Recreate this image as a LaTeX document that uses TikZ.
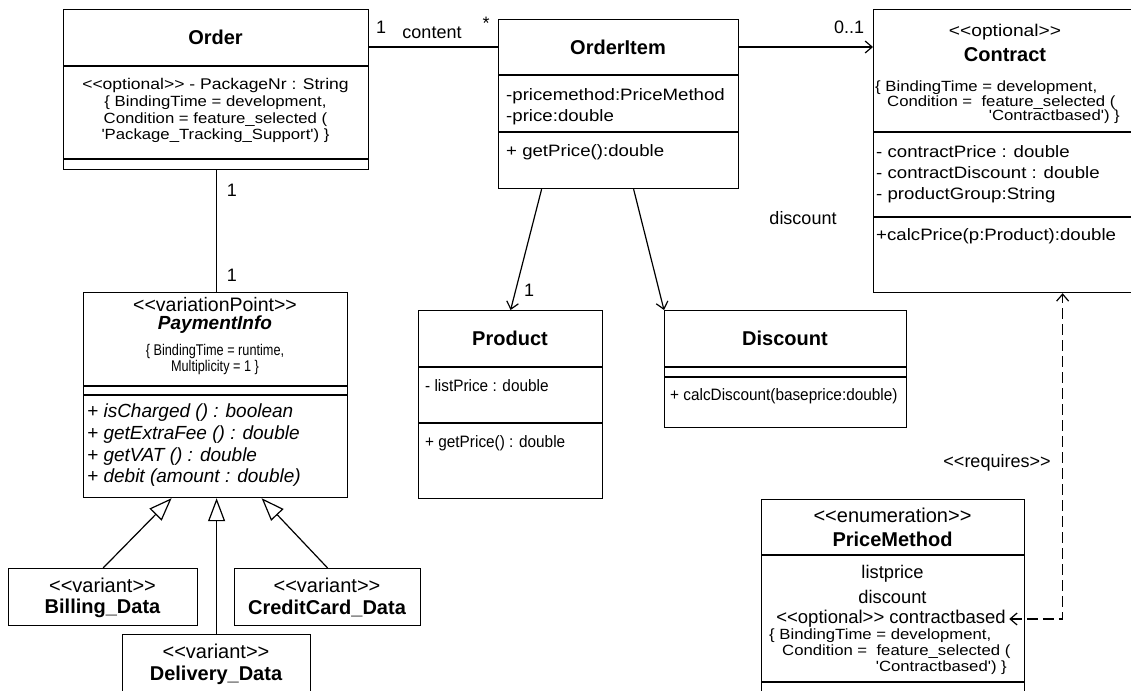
\documentclass[tikz,border=0pt]{standalone}
\usepackage{fontspec}
\setmainfont{Liberation Sans}[Ligatures=TeXOff]
\newfontfamily\wfont{Liberation Sans}[Ligatures=TeXOff,FakeStretch=1.13]
\newfontfamily\nfont{Liberation Sans}[Ligatures=TeXOff,FakeStretch=0.93]
\newfontfamily\cfont{Liberation Sans}[Ligatures=TeXOff,FakeStretch=0.82]
\usetikzlibrary{arrows.meta,calc}
\newcommand{\setfs}[2]{\fontsize{#1}{#2}\selectfont}

\begin{document}
\begin{tikzpicture}[x=1pt,y=-1pt,
    box/.style={draw,line width=1.2pt,inner sep=0pt,anchor=north west},
    umlline/.style={line width=1.2pt},
    cname/.style={font=\setfs{20}{24}\bfseries},
    stereo/.style={font=\setfs{20}{24}},
    mem/.style={font=\wfont\setfs{16.5}{20},anchor=west,inner sep=0pt},
    nmem/.style={font=\nfont\setfs{16.5}{20},anchor=west,inner sep=0pt},
    cons/.style={font=\wfont\setfs{14.8}{16.5},inner sep=0pt},
    lbl/.style={font=\setfs{18}{20},inner sep=0pt},
    nav/.style={umlline,-{Straight Barb[length=7pt,width=12pt]}},
    gen/.style={umlline,-{Triangle[length=23pt,width=17pt,fill=white]}},
    req/.style={umlline,dash pattern=on 11pt off 5pt,
      {Straight Barb[length=7pt,width=12pt]}-{Straight Barb[length=7pt,width=12pt]}}]
  \clip (0,0) rectangle (1131,690);
  \fill[white] (0,0) rectangle (1131,690);

  % Order
  \node[box,minimum width=305pt,minimum height=160pt] (order) at (63,9) {};
  \node[cname] (ordername) at (215.5,37) {Order};
  \draw[umlline] (63,66) -- (368,66);
  \draw[umlline] (63,159) -- (368,159);
  \node[font=\wfont\setfs{15.5}{18}] (orderpkg) at (215.5,85) {<<optional>> - PackageNr : String};
  \node[cons,align=center] (ordercons) at (215.5,119.5)
    {\{ BindingTime = development,\\Condition = feature\_selected (\\'Package\_Tracking\_Support') \}};

  % OrderItem
  \node[box,minimum width=240pt,minimum height=169pt] (item) at (498,19) {};
  \node[cname] (itemname) at (618,47) {OrderItem};
  \draw[umlline] (498,75) -- (738,75);
  \draw[umlline] (498,132) -- (738,132);
  \node[mem] (itempm) at (506,96) {-pricemethod:PriceMethod};
  \node[mem] (itemprice) at (506,117) {-price:double};
  \node[mem] (itemget) at (506,152) {+ getPrice():double};

  % Contract
  \node[box,minimum width=264pt,minimum height=283pt] (contract) at (873,9) {};
  \node[font=\wfont\setfs{17}{20}] (contractst) at (1005,32) {<<optional>>};
  \node[cname] (contractname) at (1005,55) {Contract};
  \node[cons,anchor=west] (contractc1) at (875,88) {\{ BindingTime = development,};
  \node[cons,anchor=west] (contractc2) at (887,102.5) {Condition = \ feature\_selected (};
  \node[cons,anchor=east] (contractc3) at (1120,117) {'Contractbased') \}};
  \draw[umlline] (873,132) -- (1137,132);
  \draw[umlline] (873,217) -- (1137,217);
  \node[mem] (contractp) at (876,152) {- contractPrice : double};
  \node[mem] (contractd) at (876,173) {- contractDiscount : double};
  \node[mem] (contractg) at (876,195) {- productGroup:String};
  \node[mem] (contractcalc) at (876,236) {+calcPrice(p:Product):double};

  % PaymentInfo
  \node[box,minimum width=264pt,minimum height=205pt] (pay) at (83,292) {};
  \node[font=\setfs{19.5}{22}] (payst) at (215,305) {<<variationPoint>>};
  \node[font=\setfs{19}{22}\bfseries\itshape] (payname) at (215,325) {PaymentInfo};
  \node[font=\cfont\setfs{15.5}{15.5},align=center,inner sep=0pt] (paycons) at (215,359.5)
    {\{ BindingTime = runtime,\\Multiplicity = 1 \}};
  \draw[umlline] (83,386) -- (347,386);
  \draw[umlline] (83,395) -- (347,395);
  \node[mem,font=\setfs{19}{22}\itshape] (paym1) at (87,413) {+ isCharged () : boolean};
  \node[mem,font=\setfs{19}{22}\itshape] (paym2) at (87,435) {+ getExtraFee () : double};
  \node[mem,font=\setfs{19}{22}\itshape] (paym3) at (87,457) {+ getVAT () : double};
  \node[mem,font=\setfs{19}{22}\itshape] (paym4) at (87,478) {+ debit (amount : double)};

  % Product
  \node[box,minimum width=184pt,minimum height=188pt] (prod) at (418,310) {};
  \node[cname] (prodname) at (510,338) {Product};
  \draw[umlline] (418,367) -- (602,367);
  \draw[umlline] (418,423) -- (602,423);
  \node[nmem] (prodlist) at (425,386) {- listPrice : double};
  \node[nmem] (prodget) at (425,443) {+ getPrice() : double};

  % Discount
  \node[box,minimum width=242pt,minimum height=117pt] (disc) at (664,310) {};
  \node[cname] (discname) at (785,338) {Discount};
  \draw[umlline] (664,367) -- (906,367);
  \draw[umlline] (664,377) -- (906,377);
  \node[nmem] (disccalc) at (670,396) {+ calcDiscount(baseprice:double)};

  % variants
  \node[box,minimum width=189pt,minimum height=57pt] (billing) at (8,568) {};
  \node[stereo] (billingst) at (102.5,585) {<<variant>>};
  \node[cname] (billingname) at (102.5,608) {Billing\_Data};
  \node[box,minimum width=186pt,minimum height=57pt] (credit) at (234,568) {};
  \node[stereo] (creditst) at (327,585) {<<variant>>};
  \node[cname] (creditname) at (327,608) {CreditCard\_Data};
  \node[box,minimum width=188pt,minimum height=80pt] (delivery) at (122,634) {};
  \node[stereo] (deliveryst) at (216,651) {<<variant>>};
  \node[cname] (deliveryname) at (216,675) {Delivery\_Data};

  % PriceMethod
  \node[box,minimum width=263pt,minimum height=200pt] (pmeth) at (761,499) {};
  \node[stereo] (pmethst) at (892.5,515) {<<enumeration>>};
  \node[cname] (pmethname) at (892.5,539) {PriceMethod};
  \draw[umlline] (761,555) -- (1024,555);
  \node[font=\setfs{18.3}{20}] (pmlist) at (892.5,574) {listprice};
  \node[font=\setfs{18.3}{20}] (pmdisc) at (892.5,597) {discount};
  \node[font=\setfs{18.5}{20}] (cbased) at (891,619) {<<optional>> contractbased};
  \node[cons,anchor=west] (pmc1) at (769,636) {\{ BindingTime = development,};
  \node[cons,anchor=west] (pmc2) at (782,652) {Condition = \ feature\_selected (};
  \node[cons,anchor=east] (pmc3) at (1007,668) {'Contractbased') \}};
  \draw[umlline] (761,682) -- (1024,682);

  % connectors
  \draw[umlline] (order.east |- itemname) -- (item.west |- itemname);
  \node[lbl] (l1) at (381,27) {1};
  \node[lbl] (lcontent) at (432,33) {content};
  \node[lbl] (lstar) at (486,23) {*};
  \draw[nav] (item.east |- itemname) -- (contract.west |- itemname);
  \node[lbl] (l01) at (849,27) {0..1};
  \draw[umlline] (order.south) -- (order.south |- pay.north);
  \node[lbl] (l2) at (232,190) {1};
  \node[lbl] (l3) at (232,275) {1};
  \draw[nav] ($(item.south)+(-77,0)$) -- (prod.north);
  \node[lbl] (l4) at (529,290) {1};
  \draw[nav] ($(item.south)+(15,0)$) -- (disc.north west);
  \node[lbl] (ldiscount) at (803,218) {discount};
  \draw[gen] (billing.north) -- ($(pay.south)+(-44,0)$);
  \draw[gen] (delivery.north) -- (delivery.north |- pay.south);
  \draw[gen] (credit.north) -- ($(pay.south)+(46,0)$);
  \draw[req] (cbased.east) -| ($(contract.south)+(57,0)$);
  \node[lbl] (lreq) at (997,463) {<<requires>>};
\end{tikzpicture}
\end{document}
